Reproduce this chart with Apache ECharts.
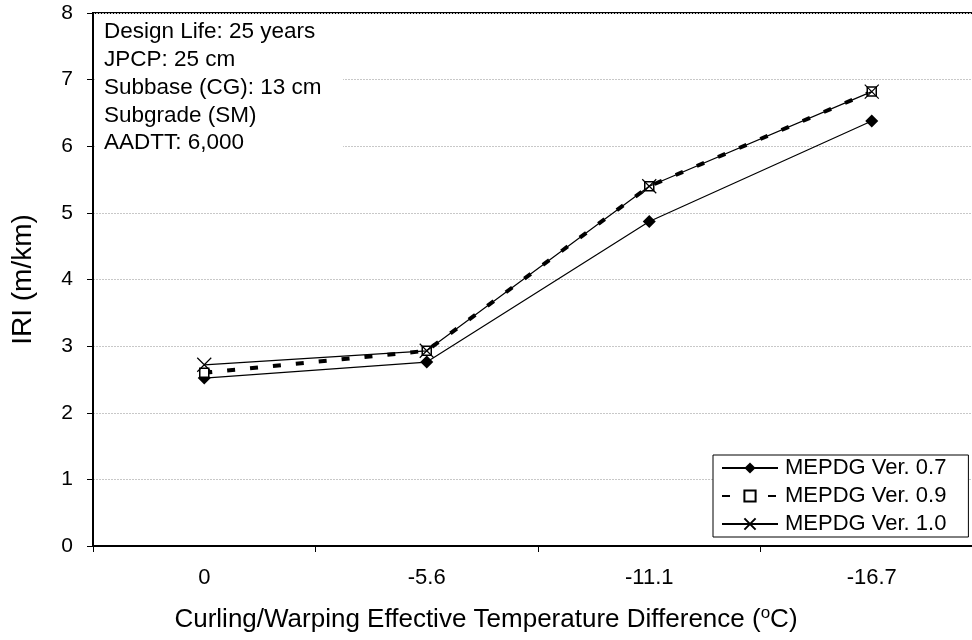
<!DOCTYPE html>
<html>
<head>
<meta charset="utf-8">
<script src="https://cdn.jsdelivr.net/npm/echarts@6/dist/echarts.min.js"></script>
<style>html,body{margin:0;padding:0;background:#fff}#c{width:972px;height:640px}</style>
</head>
<body>
<div id="c"></div>
<script>
var categories = ['0', '-5.6', '-11.1', '-16.7'];
var ver07 = [2.52, 2.76, 4.87, 6.38];
var ver09 = [2.60, 2.93, 5.40, 6.82];
var ver10 = [2.72, 2.93, 5.40, 6.82];
var seriesNames = ['MEPDG Ver. 0.7', 'MEPDG Ver. 0.9', 'MEPDG Ver. 1.0'];
var yTicks = [0, 1, 2, 3, 4, 5, 6, 7, 8];
var noteLines = ['Design Life: 25 years', 'JPCP: 25 cm', 'Subbase (CG): 13 cm', 'Subgrade (SM)', 'AADTT: 6,000'];

var FONT = '"Liberation Sans", Arial, sans-serif';
var chart = echarts.init(document.getElementById('c'), null, {renderer: 'canvas'});
chart.setOption({
  backgroundColor: '#fff',
  animation: false,
  textStyle: {fontFamily: FONT, color: '#000'},
  title: {
    text: 'Curling/Warping Effective Temperature Difference ({sup|o}C)',
    left: 'center', top: 600,
    textStyle: {
      fontFamily: FONT, fontSize: 26, fontWeight: 'normal', color: '#000',
      rich: {sup: {fontFamily: FONT, fontSize: 17, verticalAlign: 'top', padding: [0, 0, 12, 0], color: '#000'}}
    }
  },
  grid: {left: 93, top: 13, width: 890, height: 533, outerBoundsMode: 'none', containLabel: false,
         show: true, borderColor: '#000', borderWidth: 2, backgroundColor: 'transparent'},
  legend: {
    orient: 'vertical', left: 713, top: 455,
    data: seriesNames,
    itemWidth: 56, itemHeight: 14, itemGap: 6,
    padding: [2, 22, 2, 8],
    borderColor: '#000', borderWidth: 1, backgroundColor: '#fff',
    textStyle: {fontFamily: FONT, fontSize: 22, color: '#000', padding: [0, 0, 0, 2]}
  },
  xAxis: {
    type: 'category', data: categories, boundaryGap: true,
    axisLine: {lineStyle: {color: '#000', width: 2}},
    axisTick: {show: true, length: 6, lineStyle: {color: '#000', width: 1}},
    axisLabel: {fontFamily: FONT, fontSize: 22, color: '#000', margin: 21},
    splitLine: {show: false}
  },
  yAxis: {
    type: 'value', min: yTicks[0], max: yTicks[yTicks.length - 1], interval: 1,
    name: 'IRI (m/km)', nameLocation: 'middle', nameGap: 56,
    nameTextStyle: {fontFamily: FONT, fontSize: 28, color: '#000'},
    axisLine: {show: true, lineStyle: {color: '#000', width: 2}},
    axisTick: {show: true, length: 6, inside: false, lineStyle: {color: '#000', width: 1}},
    axisLabel: {fontFamily: FONT, fontSize: 21, color: '#000', margin: 20},
    splitLine: {show: true, lineStyle: {color: '#c8c8c8', width: 1, type: [2, 1]}}
  },
  graphic: [
    {type: 'rect', left: 95, top: 15, shape: {width: 248, height: 137}, style: {fill: '#fff'}, z: 5},
    {type: 'text', left: 104, top: 18, z: 6,
     style: {text: noteLines.join('\n'), fontFamily: FONT, fontSize: 22.5, lineHeight: 27.8, fill: '#000'}}
  ],
  series: [
    {name: seriesNames[0], type: 'line', data: ver07, symbol: 'diamond', symbolSize: 13,
     lineStyle: {color: '#000', width: 1.2}, itemStyle: {color: '#000'}, z: 3},
    {name: seriesNames[1], type: 'line', data: ver09, symbol: 'rect', symbolSize: 9,
     lineStyle: {color: '#000', width: 4, type: [8, 15]}, itemStyle: {color: '#fff', borderColor: '#000', borderWidth: 1.5}, z: 3},
    {name: seriesNames[2], type: 'line', data: ver10, symbol: 'path://M0,0L10,10M10,0L0,10', symbolSize: 14,
     lineStyle: {color: '#000', width: 1.2}, itemStyle: {color: 'transparent', borderColor: '#000', borderWidth: 1.2}, z: 4}
  ]
});
</script>
</body>
</html>
